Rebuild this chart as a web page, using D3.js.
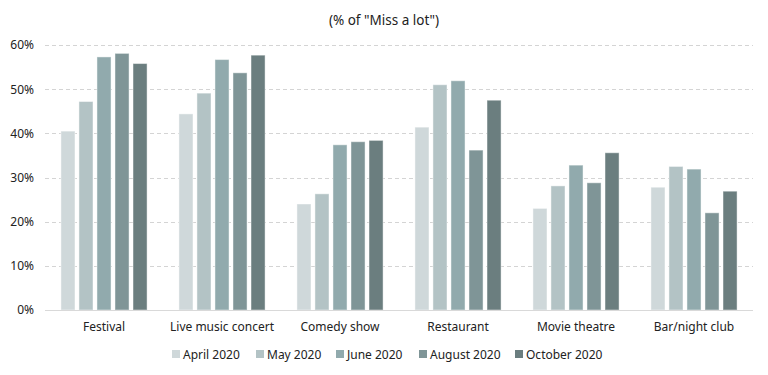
<!DOCTYPE html>
<html><head><meta charset="utf-8">
<script src="https://cdn.jsdelivr.net/npm/d3@7"></script>
<style>body{margin:0;background:#fff;} text{font-family:"Noto Sans",sans-serif;fill:#222;}</style>
</head><body>
<svg id="c" width="768" height="375"></svg>
<script>
const categories = ["Festival","Live music concert","Comedy show","Restaurant","Movie theatre","Bar/night club"];
const seriesNames = ["April 2020","May 2020","June 2020","August 2020","October 2020"];
const april  = [40.5, 44.4, 24.0, 41.4, 23.0, 27.8];
const may    = [47.2, 49.1, 26.3, 51.0, 28.1, 32.5];
const june   = [57.3, 56.7, 37.4, 51.9, 32.8, 31.9];
const august = [58.1, 53.7, 38.1, 36.2, 28.8, 22.0];
const october= [55.8, 57.7, 38.4, 47.5, 35.6, 26.9];
const yTicks = [0,10,20,30,40,50,60];
const colors = ["#cfd8da","#b3c3c5","#91aaad","#7f9597","#6b7e7f"];
const title = '(% of "Miss a lot")';

const series = [april, may, june, august, october];
const svg = d3.select("#c");
const m = {l:45, r:15, t:45, b:65};
const W = 768, H = 375;
const x0 = d3.scaleBand().domain(categories).range([m.l, W-m.r]).paddingInner(0.27).paddingOuter(0.135);
const x1 = d3.scaleBand().domain(seriesNames).range([0, x0.bandwidth()]).paddingInner(0.22).paddingOuter(0);
const y = d3.scaleLinear().domain([0,60]).range([H-m.b, m.t]);

// gridlines
svg.append("g").selectAll("line").data(yTicks.filter(d=>d>0)).join("line")
  .attr("x1", m.l).attr("x2", W-m.r)
  .attr("y1", d=>Math.round(y(d))+0.5).attr("y2", d=>Math.round(y(d))+0.5)
  .attr("stroke","#d4d4d4").attr("stroke-dasharray","4,3");

// y axis labels
const ya = svg.append("g").attr("transform",`translate(${m.l},0)`)
  .call(d3.axisLeft(y).tickValues(yTicks).tickFormat(d=>d+"%").tickSize(0).tickPadding(11));
ya.select(".domain").remove();
ya.selectAll("text").style("font-size","12px").attr("fill","#222");

// bars
const g = svg.append("g");
categories.forEach((c,ci)=>{
  series.forEach((s,si)=>{
    g.append("rect")
      .attr("x", x0(c)+x1(seriesNames[si]))
      .attr("y", y(s[ci]))
      .attr("width", x1.bandwidth())
      .attr("height", y(0)-y(s[ci]))
      .attr("fill", colors[si])
      .attr("stroke","#ffffff").attr("stroke-opacity",0.45).attr("stroke-width",1);
  });
});

// baseline
svg.append("line").attr("x1",m.l).attr("x2",W-m.r)
  .attr("y1",Math.round(y(0))+0.5).attr("y2",Math.round(y(0))+0.5)
  .attr("stroke","#d9d9d9").attr("stroke-width",1);

// x axis labels
const xa = svg.append("g").attr("transform",`translate(0,${y(0)})`)
  .call(d3.axisBottom(x0).tickSize(0).tickPadding(12));
xa.select(".domain").remove();
xa.selectAll("text").style("font-size","12px").attr("fill","#222");

// title
svg.append("text").attr("x",384).attr("y",25).attr("text-anchor","middle")
  .style("font-size","13.5px").text(title);

// legend
const legX = [172, 256, 336, 419, 515];
const lg = svg.append("g");
seriesNames.forEach((n,i)=>{
  lg.append("rect").attr("x",legX[i]).attr("y",350).attr("width",8).attr("height",8).attr("fill",colors[i]);
  lg.append("text").attr("x",legX[i]+11).attr("y",358.5).style("font-size","12px").text(n);
});
</script>
</body></html>
